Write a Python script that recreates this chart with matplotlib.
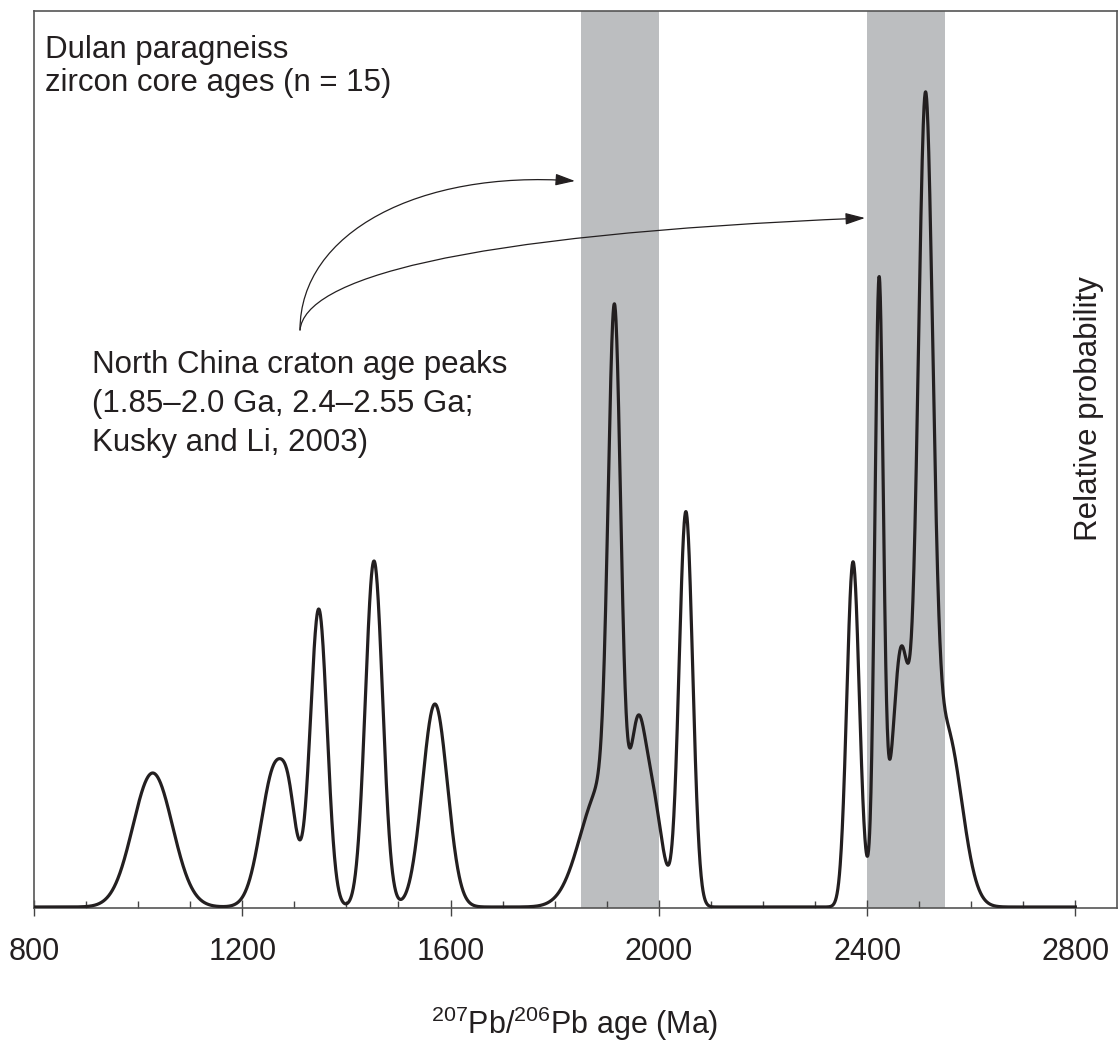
import numpy as np
import matplotlib
matplotlib.use("Agg")
import matplotlib.pyplot as plt
from matplotlib.path import Path
from matplotlib.patches import FancyArrowPatch
from matplotlib.ticker import MultipleLocator

plt.rcParams['font.family'] = ['Liberation Sans', 'DejaVu Sans']
plt.rcParams['mathtext.fontset'] = 'custom'
plt.rcParams['mathtext.rm'] = 'Liberation Sans'
plt.rcParams['mathtext.it'] = 'Liberation Sans:italic'

# --- data: probability-density components (age Ma, 1-sigma Ma, relative height)
peak_ages = [1028, 1265, 1290, 1347, 1453, 1570,
             1890, 1915, 1958, 1985, 2052,
             2373, 2423, 2465, 2470, 2512, 2553]
peak_sigmas = [38, 28, 12, 16, 16.5, 24,
               40, 12, 14, 20, 13,
               12, 8, 14, 35, 14, 29]
peak_heights = [134, 143, 30, 296, 346, 203,
                120, 503, 116, 110, 395,
                343, 586, 152, 105, 700, 172]

nccraton_bands = [(1850, 2000), (2400, 2550)]
xticks_major = [800, 1200, 1600, 2000, 2400, 2800]

age = np.linspace(800, 2800, 4000)
prob = np.zeros_like(age)
for a, s, h in zip(peak_ages, peak_sigmas, peak_heights):
    prob += h * np.exp(-0.5 * ((age - a) / s) ** 2)

W, H = 1120, 1047
fig = plt.figure(figsize=(W / 100, H / 100), dpi=100)
ax = fig.add_axes([34 / W, 1 - 908 / H, (1117 - 34) / W, (908 - 11) / H])

ink = '#231f20'
for lo, hi in nccraton_bands:
    ax.axvspan(lo, hi, color='#bcbec0', lw=0, zorder=0)

ax.plot(age, prob, color=ink, lw=2.3, zorder=3, solid_joinstyle='round')

ax.set_xlim(800, 2880)
ax.set_ylim(-1, 896)
ax.set_xticks(xticks_major)
ax.xaxis.set_minor_locator(MultipleLocator(100))
ax.tick_params(axis='x', which='major', direction='inout', length=12, width=1,
               color='#444444', labelsize=22, labelcolor=ink, pad=15)
ax.tick_params(axis='x', which='minor', direction='in', length=5, width=1,
               color='#444444')
ax.set_yticks([])
for sp in ax.spines.values():
    sp.set_color('#555555')
    sp.set_linewidth(1.2)

# texts
def px(x, y):
    return x / W, 1 - y / H

fs = 22.5
fig.text(*px(45, 58), 'Dulan paragneiss', fontsize=fs, color=ink, va='baseline')
fig.text(*px(45, 91), 'zircon core ages (n = 15)', fontsize=fs, color=ink, va='baseline')
fig.text(*px(92, 373), 'North China craton age peaks', fontsize=fs, color=ink, va='baseline')
fig.text(*px(92, 412), '(1.85–2.0 Ga, 2.4–2.55 Ga;', fontsize=fs, color=ink, va='baseline')
fig.text(*px(92, 451), 'Kusky and Li, 2003)', fontsize=fs, color=ink, va='baseline')
fig.text(*px(1089, 409), 'Relative probability', fontsize=fs, color=ink,
         rotation=90, ha='center', va='center')
fig.text(*px(575, 1034), r'$^{207}$Pb/$^{206}$Pb age (Ma)', fontsize=22, color=ink,
         ha='center', va='baseline')

# arrows (data coords: age, relative height)
def d(xp, yp):
    return 800 + (xp - 34) * 2080 / (1117 - 34), 907 - yp

arrow1 = [d(300, 330), d(300, 232), d(420, 170), d(575, 181)]
arrow2 = [d(300, 330), d(305, 280), d(450, 235), d(865, 218)]
for pts in (arrow1, arrow2):
    path = Path(pts, [Path.MOVETO, Path.CURVE4, Path.CURVE4, Path.CURVE4])
    arr = FancyArrowPatch(path=path, arrowstyle='-|>,head_length=0.6,head_width=0.18',
                          mutation_scale=20, lw=0.9, color=ink,
                          transform=ax.transData, zorder=4)
    ax.add_patch(arr)

fig.savefig('out.png', dpi=100)
